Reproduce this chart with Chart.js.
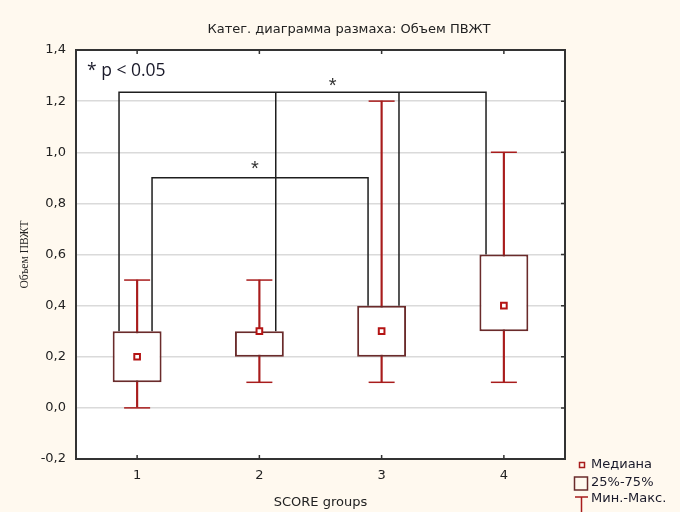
<!DOCTYPE html>
<html>
<head>
<meta charset="utf-8">
<script src="https://cdn.jsdelivr.net/npm/chart.js@4.4.1/dist/chart.umd.min.js"></script>
<style>
html, body { margin: 0; padding: 0; background: #fff9ef; }
</style>
</head>
<body>
<canvas id="graphCanvas" width="680" height="512"></canvas>
<script>
// Datos
var grupos = [1, 2, 3, 4];
var minimos = [0.0, 0.1, 0.1, 0.1];
var cuartil1 = [0.1, 0.2, 0.2, 0.3];
var medianas = [0.2, 0.3, 0.3, 0.4];
var cuartil3 = [0.3, 0.3, 0.4, 0.6];
var maximos = [0.5, 0.5, 1.2, 1.0];
var yTicks = [-0.2, 0.0, 0.2, 0.4, 0.6, 0.8, 1.0, 1.2, 1.4];

// Corchetes de significacion (x en unidades de grupo)
var bajoX = [1.122, 2.889];
var bajoFondo = [0.3, 0.4];
var bajoAltura = 0.9;
var altoX = [0.852, 2.134, 3.142, 3.854];
var altoFondo = [0.3, 0.3, 0.4, 0.6];
var altoAltura = 1.235;
var estrellasX = [1.964, 2.6];
var estrellasY = [0.953, 1.279];

var rojo = '#a81c1c';
var granate = '#6a2b2b';
var fuente = 'DejaVu Sans, Verdana, sans-serif';

function puntos(xs, ys) {
    var res = [];
    for (var i = 0; i < xs.length; i++) {
        res.push({x: xs[i], y: ys[i]});
    }
    return res;
}

function rangos(xs, a, b) {
    var res = [];
    for (var i = 0; i < xs.length; i++) {
        res.push({x: xs[i], y: [a[i], b[i]]});
    }
    return res;
}

// lineas del corchete alto: brazo izq + techo + brazo der, luego brazos internos
var corcheteAlto = [
    {x: altoX[0], y: altoFondo[0]}, {x: altoX[0], y: altoAltura},
    {x: altoX[3], y: altoAltura}, {x: altoX[3], y: altoFondo[3]},
    {x: altoX[1], y: null},
    {x: altoX[1], y: altoAltura}, {x: altoX[1], y: altoFondo[1]},
    {x: altoX[2], y: null},
    {x: altoX[2], y: altoAltura}, {x: altoX[2], y: altoFondo[2]}
];
var corcheteBajo = [
    {x: bajoX[0], y: bajoFondo[0]}, {x: bajoX[0], y: bajoAltura},
    {x: bajoX[1], y: bajoAltura}, {x: bajoX[1], y: bajoFondo[1]}
];

var fondoPlugin = {
    id: 'fondo',
    beforeDraw: function (chart) {
        var ctx = chart.ctx, a = chart.chartArea;
        ctx.save();
        ctx.fillStyle = '#fff9ef';
        ctx.fillRect(0, 0, chart.width, chart.height);
        ctx.fillStyle = '#ffffff';
        ctx.fillRect(a.left, a.top, a.right - a.left, a.bottom - a.top);
        ctx.restore();
    },
    afterDraw: function (chart) {
        var ctx = chart.ctx, a = chart.chartArea;
        var sx = chart.scales.x, sy = chart.scales.y;
        ctx.save();
        // marco
        ctx.strokeStyle = '#333333';
        ctx.lineWidth = 2;
        ctx.strokeRect(a.left, a.top, a.right - a.left, a.bottom - a.top);
        // marcas interiores
        ctx.lineWidth = 1.5;
        ctx.beginPath();
        for (var i = 0; i < grupos.length; i++) {
            var px = sx.getPixelForValue(grupos[i]);
            ctx.moveTo(px, a.top); ctx.lineTo(px, a.top + 4);
            ctx.moveTo(px, a.bottom); ctx.lineTo(px, a.bottom - 4);
        }
        for (var j = 0; j < yTicks.length; j++) {
            var py = sy.getPixelForValue(yTicks[j]);
            ctx.moveTo(a.right, py); ctx.lineTo(a.right - 4, py);
        }
        ctx.stroke();
        // estrellas
        ctx.fillStyle = '#333333';
        ctx.font = '20px Liberation Sans, Arial, sans-serif';
        ctx.textAlign = 'center';
        ctx.textBaseline = 'alphabetic';
        for (var k = 0; k < estrellasX.length; k++) {
            ctx.fillText('*', sx.getPixelForValue(estrellasX[k]), sy.getPixelForValue(estrellasY[k]) + 11);
        }
        // nota p
        ctx.fillStyle = '#1a1a2a';
        ctx.font = '17.5px Open Sans, sans-serif';
        ctx.textAlign = 'left';
        ctx.textBaseline = 'middle';
        ctx.fillText('* p < 0.05', a.left + 11, a.top + 21);
        // leyenda
        var lx = a.right + 8;
        ctx.font = '13px ' + fuente;
        ctx.fillText('Медиана', lx + 18, 465);
        ctx.fillText('25%-75%', lx + 18, 483);
        ctx.fillText('Мин.-Макс.', lx + 18, 499);
        ctx.lineWidth = 1.5;
        ctx.strokeStyle = rojo;
        ctx.strokeRect(lx + 6.5, 462.5, 5, 5);
        ctx.strokeStyle = granate;
        ctx.strokeRect(lx + 1.5, 477, 13, 13);
        ctx.strokeStyle = rojo;
        ctx.beginPath();
        ctx.moveTo(lx + 2, 497); ctx.lineTo(lx + 15, 497);
        ctx.moveTo(lx + 8.5, 497); ctx.lineTo(lx + 8.5, 512);
        ctx.stroke();
        ctx.restore();
    }
};

var chartdata = {
    datasets: [
        {
            type: 'scatter',
            label: 'Медиана',
            data: puntos(grupos, medianas),
            pointStyle: 'rect',
            pointRadius: 4,
            pointBackgroundColor: '#ffffff',
            pointBorderColor: '#b41414',
            pointBorderWidth: 2,
            order: 0
        },
        {
            type: 'scatter',
            label: 'Мин.-Макс.',
            data: puntos(grupos, minimos).concat(puntos(grupos, maximos)),
            pointStyle: 'line',
            pointRadius: 13,
            pointBorderColor: rojo,
            pointBorderWidth: 1.5,
            order: 1
        },
        {
            type: 'bar',
            label: '25%-75%',
            data: rangos(grupos, cuartil1, cuartil3),
            backgroundColor: '#ffffff',
            borderColor: granate,
            borderWidth: 2,
            borderSkipped: false,
            barPercentage: 0.4,
            categoryPercentage: 1,
            grouped: false,
            order: 2
        },
        {
            type: 'bar',
            label: 'bigotes',
            data: rangos(grupos, minimos, maximos),
            backgroundColor: rojo,
            borderWidth: 0,
            barThickness: 1.5,
            grouped: false,
            order: 3
        },
        {
            type: 'line',
            label: 'corchete alto',
            data: corcheteAlto,
            borderColor: '#1e1e1e',
            borderWidth: 1.5,
            pointRadius: 0,
            spanGaps: false,
            order: 4
        },
        {
            type: 'line',
            label: 'corchete bajo',
            data: corcheteBajo,
            borderColor: '#1e1e1e',
            borderWidth: 1.5,
            pointRadius: 0,
            order: 4
        }
    ]
};

window.grafica = new Chart(document.getElementById('graphCanvas'), {
    type: 'bar',
    data: chartdata,
    plugins: [fondoPlugin],
    options: {
        responsive: false,
        animation: false,
        devicePixelRatio: 1,
        layout: {padding: {left: 18, right: 0, top: 0, bottom: 0}},
        plugins: {
            legend: {display: false},
            tooltip: {enabled: false},
            title: {
                display: true,
                text: 'Катег. диаграмма размаха: Объем ПВЖТ',
                color: '#222222',
                font: {family: fuente, size: 13, weight: 'normal'},
                padding: {top: 22.2, bottom: 12.2}
            }
        },
        scales: {
            x: {
                type: 'linear',
                position: 'bottom',
                min: 0.5,
                max: 4.5,
                offset: false,
                afterBuildTicks: function (s) {
                    s.ticks = grupos.map(function (g) { return {value: g}; });
                },
                afterFit: function (s) { s.height = 53; },
                grid: {display: false},
                border: {display: false},
                ticks: {
                    color: '#222222',
                    font: {family: fuente, size: 13},
                    padding: 1,
                    callback: function (v) { return String(v); }
                },
                title: {
                    display: true,
                    text: 'SCORE groups',
                    color: '#222222',
                    font: {family: fuente, size: 13},
                    padding: {top: 0, bottom: 1.2}
                }
            },
            y: {
                type: 'linear',
                position: 'left',
                min: -0.2,
                max: 1.4,
                afterBuildTicks: function (s) {
                    s.ticks = yTicks.map(function (t) { return {value: t}; });
                },
                afterFit: function (s) { s.width = 58; },
                grid: {color: '#dadada', lineWidth: 1.5, drawTicks: false},
                border: {display: false},
                ticks: {
                    color: '#222222',
                    font: {family: fuente, size: 13},
                    padding: 10,
                    callback: function (v) { return Number(v).toFixed(1).replace('.', ','); }
                },
                title: {
                    display: true,
                    text: 'Объем ПВЖТ',
                    color: '#222222',
                    font: {family: 'Liberation Serif, serif', size: 11.5},
                    padding: {top: 0.4, bottom: 0}
                }
            },
            derecha: {
                type: 'linear',
                position: 'right',
                display: true,
                grid: {display: false},
                border: {display: false},
                ticks: {display: false},
                afterFit: function (s) { s.width = 115; }
            }
        }
    }
});
</script>
</body>
</html>
